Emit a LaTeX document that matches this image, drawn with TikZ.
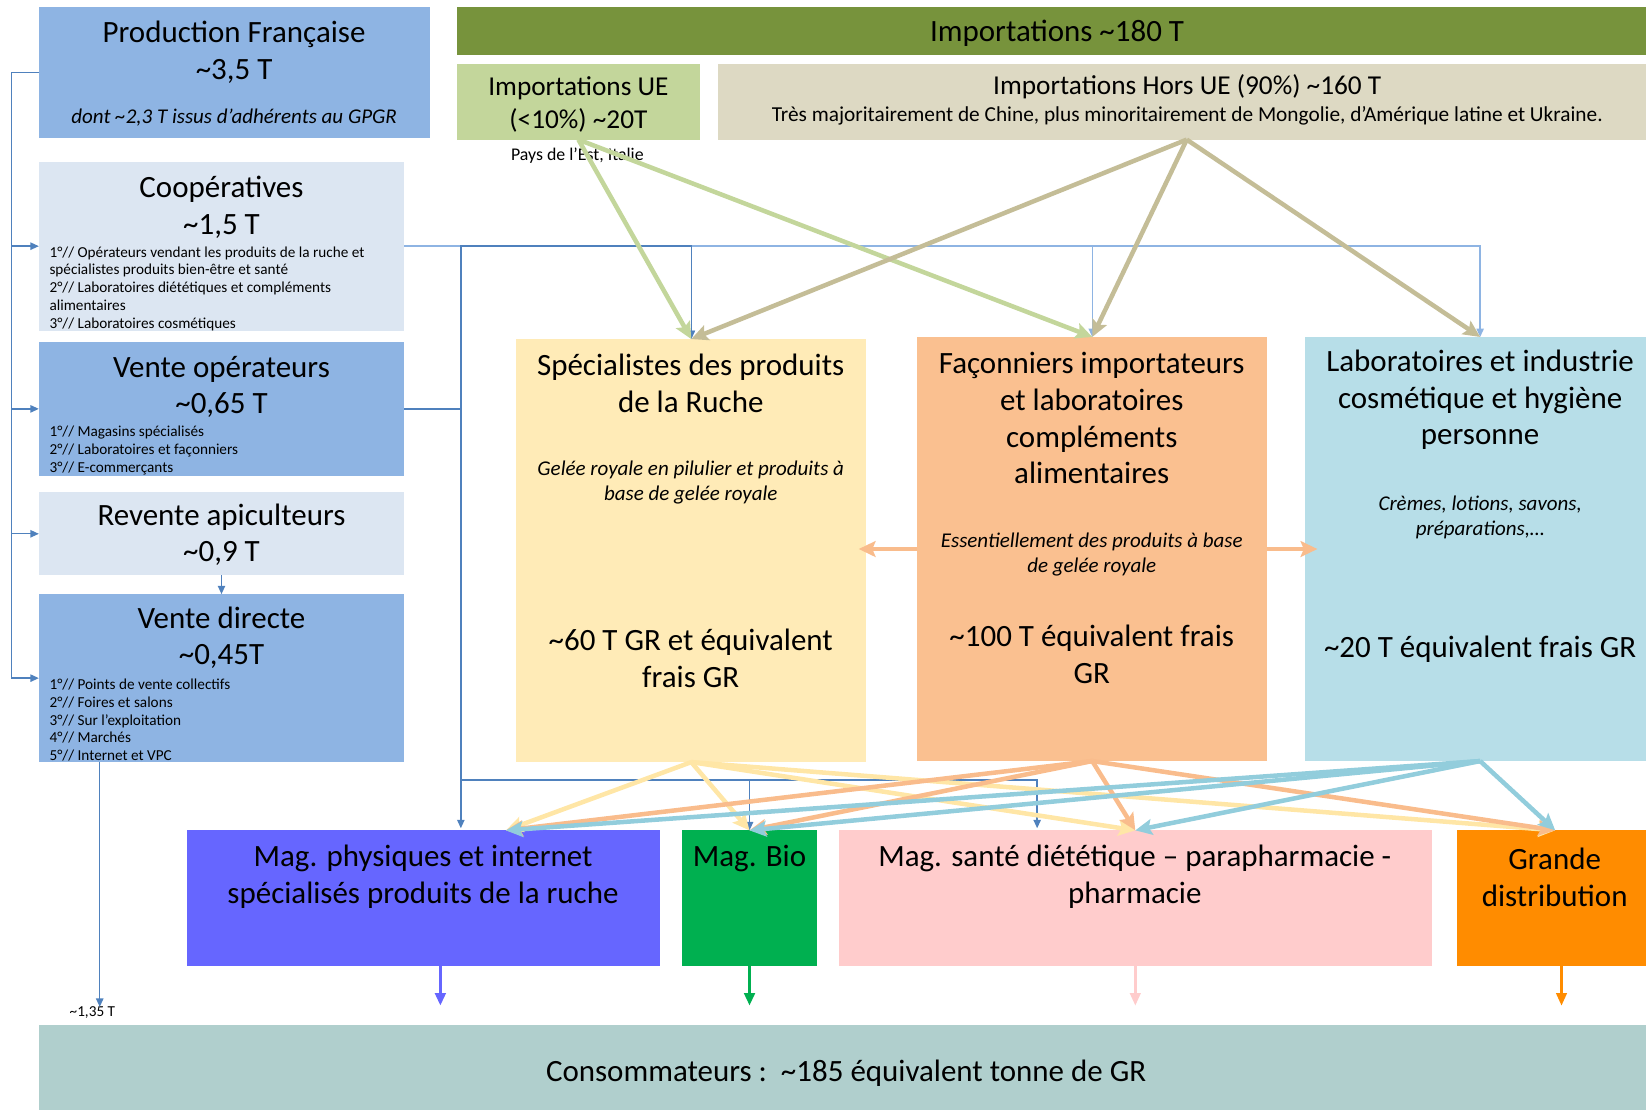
\documentclass[tikz,border=0pt]{standalone}
\usepackage{fontspec}
\setmainfont{Carlito}
\usetikzlibrary{arrows.meta}

\definecolor{prodblue}{HTML}{8EB4E3}
\definecolor{paleblue}{HTML}{DCE6F2}
\definecolor{importgreen}{HTML}{77933C}
\definecolor{uegreen}{HTML}{C3D69B}
\definecolor{huebeige}{HTML}{DDD9C3}
\definecolor{specyellow}{HTML}{FFEBB7}
\definecolor{facorange}{HTML}{FAC090}
\definecolor{labblue}{HTML}{B7DEE8}
\definecolor{magphyblue}{HTML}{6666FF}
\definecolor{magbiogreen}{HTML}{00B050}
\definecolor{magsanpink}{HTML}{FFCCCC}
\definecolor{grandeorange}{HTML}{FF8C00}
\definecolor{consgreen}{HTML}{B0CFCD}
\definecolor{treeblue}{HTML}{4F81BD}
\definecolor{coopblue}{HTML}{8EB4E3}
\definecolor{specflow}{HTML}{FFE6A6}
\definecolor{facflow}{HTML}{F9BC8C}
\definecolor{labflow}{HTML}{92CDDC}
\definecolor{hueflow}{HTML}{C4BD97}

\tikzset{
  box/.style={rectangle,inner sep=0pt,outer sep=0pt,anchor=north west},
  big/.style={inner sep=0pt,align=center,font=\fontsize{29.5}{35}\selectfont},
  sub/.style={inner sep=0pt,align=center,font=\fontsize{26}{31}\selectfont},
  note/.style={inner sep=0pt,align=center,font=\fontsize{20}{24}\selectfont\itshape},
  list/.style={inner sep=0pt,align=left,anchor=west,font=\fontsize{14.5}{17}\selectfont},
  tree/.style={treeblue,line width=1.3pt,-{Triangle[length=8pt,width=7pt]}},
  coopline/.style={coopblue,line width=1.3pt,-{Triangle[length=8pt,width=7pt]}},
  flow/.style={line width=4.3pt,-{Stealth[length=16pt,width=15pt,inset=3pt]}},
  outflow/.style={line width=3.2pt,-{Triangle[length=12pt,width=10pt]}}
}

\begin{document}
\begin{tikzpicture}[x=1pt,y=-1pt]
\useasboundingbox (0,0) rectangle (1568,1057);

% production francaise et circuits
\node [box,fill=prodblue,minimum width=373pt,minimum height=124pt] (prod) at (37,7) {};
\node [box,fill=paleblue,minimum width=348pt,minimum height=161pt] (coop) at (37,154) {};
\node [box,fill=prodblue,minimum width=348pt,minimum height=127pt] (vop) at (37,326) {};
\node [box,fill=paleblue,minimum width=348pt,minimum height=79pt] (rev) at (37,469) {};
\node [box,fill=prodblue,minimum width=348pt,minimum height=160pt] (vdir) at (37,566) {};

\node [big] (prodT) at (223,49.5) {Production Française\\\textasciitilde3,5 T};
\node [note] (prodI) at (223,112) {dont \textasciitilde2,3 T issus d’adhérents au GPGR};
\node [big] (coopT) at (211,197.5) {Coopératives\\\textasciitilde1,5 T};
\node [list] (coopL) at (47,275) {1°// Opérateurs vendant les produits de la ruche et\\spécialistes produits bien-être et santé\\2°// Laboratoires diététiques et compléments\\alimentaires\\3°// Laboratoires cosmétiques};
\node [big] (vopT) at (211,368.5) {Vente opérateurs\\\textasciitilde0,65 T};
\node [list] (vopL) at (47,429) {1°// Magasins spécialisés\\2°// Laboratoires et façonniers\\3°// E-commerçants};
\node [big] (revT) at (211,509.5) {Revente apiculteurs\\\textasciitilde0,9 T};
\node [big] (vdirT) at (211,607.5) {Vente directe\\\textasciitilde0,45T};
\node [list] (vdirL) at (47,686) {1°// Points de vente collectifs\\2°// Foires et salons\\3°// Sur l’exploitation\\4°// Marchés\\5°// Internet et VPC};
\node [list,anchor=center] (vd135) at (88,965) {\textasciitilde1,35 T};

% importations
\node [box,fill=importgreen,minimum width=1142pt,minimum height=45pt] (imp) at (435,7) {};
\node [box,fill=uegreen,minimum width=232pt,minimum height=72pt] (impue) at (435,61) {};
\node [box,fill=huebeige,minimum width=893pt,minimum height=72pt] (imphue) at (684,61) {};
\node [big] (impT) at (1007,32) {Importations \textasciitilde180 T};
\node [sub] (impueT) at (551,99.5) {Importations UE\\(<10\%) \textasciitilde20T};
\node [list,anchor=center,font=\fontsize{17}{20}\selectfont] (impueP) at (550,148) {Pays de l’Est, Italie};
\node [sub] (imphueT) at (1131,83) {Importations Hors UE (90\%) \textasciitilde160 T};
\node [note,font=\fontsize{20.3}{24}\selectfont] (imphueS) at (1131,110) {Très majoritairement de Chine, plus minoritairement de Mongolie, d’Amérique latine et Ukraine.};

% transformateurs
\node [box,fill=specyellow,minimum width=333pt,minimum height=403pt] (spec) at (492,323) {};
\node [box,fill=facorange,minimum width=333pt,minimum height=404pt] (fac) at (874,321) {};
\node [box,fill=labblue,minimum width=334pt,minimum height=404pt] (lab) at (1243,321) {};
\node [big] (specT) at (658,365.5) {Spécialistes des produits\\de la Ruche};
\node [note] (specI) at (658,460) {Gelée royale en pilulier et produits à\\base de gelée royale};
\node [big] (specQ) at (658,627.5) {\textasciitilde60 T GR et équivalent\\frais GR};
\node [big] (facT) at (1040,398.5) {Façonniers importateurs\\et laboratoires\\compléments\\alimentaires};
\node [note] (facI) at (1040,528) {Essentiellement des produits à base\\de gelée royale};
\node [big] (facQ) at (1040,623.5) {\textasciitilde100 T équivalent frais\\GR};
\node [big] (labT) at (1410,381) {Laboratoires et industrie\\cosmétique et hygiène\\personne};
\node [note] (labI) at (1410,493) {Crèmes, lotions, savons,\\préparations,…};
\node [big] (labQ) at (1410,618) {\textasciitilde20 T équivalent frais GR};

% distribution
\node [box,fill=magphyblue,minimum width=451pt,minimum height=129pt] (magphy) at (178,791) {};
\node [box,fill=magbiogreen,minimum width=128pt,minimum height=129pt] (magbio) at (650,791) {};
\node [box,fill=magsanpink,minimum width=565pt,minimum height=129pt] (magsan) at (799,791) {};
\node [box,fill=grandeorange,minimum width=187pt,minimum height=129pt] (grande) at (1388,791) {};
\node [box,fill=consgreen,minimum width=1538pt,minimum height=88pt] (cons) at (37,976) {};
\node [big] (magphyT) at (403,835.5) {Mag. physiques et internet\\spécialisés produits de la ruche};
\node [big] (magbioT) at (714,818) {Mag. Bio};
\node [big] (magsanT) at (1081,835.5) {Mag. santé diététique – parapharmacie -\\pharmacie};
\node [big] (grandeT) at (1481,835.5) {Grande\\distribution};
\node [big] (consT) at (806,1022) {Consommateurs :\ \ \textasciitilde185 équivalent tonne de GR};

\coordinate (magphyin) at (482,791);
\coordinate (magphyop) at (439,789);
\coordinate (magsanop) at (988,789);
\coordinate (opsplit) at (439,743);
\coordinate (consin) at (0,958);

% circuits francais
\draw[tree] (prod.west) -- ++(-26,0) |- (coop.west);
\draw[tree] (prod.west) -- ++(-26,0) |- (vop.west);
\draw[tree] (prod.west) -- ++(-26,0) |- (rev.west);
\draw[tree] (prod.west) -- ++(-26,0) |- (vdir.west);
\draw[tree] (rev.south) -- (vdir.north);
\draw[tree] ([xshift=58pt]vdir.south west) -- ([xshift=58pt]vdir.south west |- vd135.north);
\draw[coopline] (coop.east) -| (lab.north);
\draw[coopline] (coop.east) -| (fac.north);
\draw[coopline] (coop.east) -| (spec.north);
\draw[tree] (vop.east) -| ([xshift=54pt]vop.east |- coop.east) -| (spec.north);
\draw[tree] (vop.east) -| (magphyop);
\draw[tree] (opsplit) -| (magsanop);
\draw[tree] (opsplit) -| (magbio.north);

% importations
\draw[flow,uegreen] (impue.south) -- (spec.north);
\draw[flow,uegreen] (impue.south) -- (fac.north);
\draw[flow,hueflow] (imphue.south) -- (spec.north);
\draw[flow,hueflow] (imphue.south) -- (fac.north);
\draw[flow,hueflow] (imphue.south) -- (lab.north);

% vers la distribution
\draw[flow,facflow] (fac.west) -- ([xshift=-7pt]spec.east |- fac.west);
\draw[flow,facflow] (fac.east) -- ([xshift=12pt]lab.west |- fac.east);
\draw[flow,specflow] (spec.south) -- (magphyin);
\draw[flow,specflow] (spec.south) -- (magbio.north);
\draw[flow,specflow] (spec.south) -- (magsan.north);
\draw[flow,specflow] (spec.south) -- (grande.north);
\draw[flow,facflow] (fac.south) -- (magphyin);
\draw[flow,facflow] (fac.south) -- (magbio.north);
\draw[flow,facflow] (fac.south) -- (magsan.north);
\draw[flow,facflow] (fac.south) -- (grande.north);
\draw[flow,labflow] (lab.south) -- (magphyin);
\draw[flow,labflow] (lab.south) -- (magbio.north);
\draw[flow,labflow] (lab.south) -- (magsan.north);
\draw[flow,labflow] (lab.south) -- (grande.north);

% vers les consommateurs
\draw[outflow,magphyblue] ([xshift=16pt]magphy.south) -- ([xshift=16pt]magphy.south |- consin);
\draw[outflow,magbiogreen] (magbio.south) -- (magbio.south |- consin);
\draw[outflow,magsanpink,line width=2.5pt] (magsan.south) -- (magsan.south |- consin);
\draw[outflow,grandeorange,line width=2.5pt] ([xshift=6pt]grande.south) -- ([xshift=6pt]grande.south |- consin);

\end{tikzpicture}
\end{document}
